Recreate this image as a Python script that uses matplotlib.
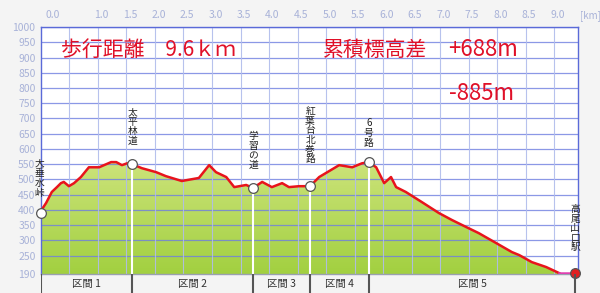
import numpy as np
import matplotlib.pyplot as plt
from matplotlib.patches import Polygon
from matplotlib.transforms import blended_transform_factory

plt.rcParams['font.family'] = ['Noto Sans CJK JP', 'DejaVu Sans']

# 距離 [km] と標高 [m]
dist = [0.00, 0.02, 0.09, 0.19, 0.28, 0.35, 0.40, 0.49, 0.58, 0.70, 0.84, 1.02,
        1.23, 1.32, 1.42, 1.51, 1.60, 1.77, 2.02, 2.19, 2.47, 2.65, 2.77, 2.95,
        3.07, 3.25, 3.39, 3.60, 3.72, 3.88, 4.05, 4.23, 4.35, 4.53, 4.72, 4.88,
        5.23, 5.46, 5.63, 5.75, 5.88, 6.02, 6.14, 6.23, 6.40, 6.68, 6.98, 7.21,
        7.46, 7.68, 7.98, 8.26, 8.39, 8.61, 8.86, 9.09, 9.37]
elev = [390, 403, 423, 459, 475, 488, 492, 478, 488, 508, 540, 540,
        557, 557, 547, 553, 550, 537, 524, 511, 495, 501, 505, 547,
        524, 508, 475, 482, 472, 492, 475, 488, 475, 478, 478, 508,
        547, 540, 553, 557, 540, 488, 508, 475, 459, 426, 390, 367,
        344, 324, 292, 262, 252, 229, 213, 193, 193]

# 地点
spot_km = [0.0, 1.60, 3.72, 4.72, 5.75, 9.37]
spot_elev = [390, 550, 472, 478, 557, 193]
spot_names = ['大垂水峠', '太平林道', '学習の道', '紅葉台北巻路', '6号路', '高尾山口駅']
label_x = [-0.03, 1.60, 3.72, 4.72, 5.75, 9.37]
label_top = [568, 738, 658, 740, 700, 420]

sections = ['区間 1', '区間 2', '区間 3', '区間 4', '区間 5']
section_edges = [0.0, 1.60, 3.72, 4.72, 5.75, 9.37]

xtick_vals = [0.0, 1.0, 1.5, 2.0, 2.5, 3.0, 3.5, 4.0, 4.5, 5.0, 5.5, 6.0,
              6.5, 7.0, 7.5, 8.0, 8.5, 9.0]
ytick_vals = [1000, 950, 900, 850, 800, 750, 700, 650, 600, 550, 500, 450,
              400, 350, 300, 250, 190]

fig = plt.figure(figsize=(6, 2.93), dpi=100, facecolor='#f4f4f4')
ax = fig.add_axes([0.0683, 0.0648, 0.8950, 0.8430])
ax.set_facecolor('white')
xmax = 9.42
ax.set_xlim(0, xmax)
ax.set_ylim(190, 1000)

# グリッド
for y in range(250, 1001, 50):
    ax.axhline(y, color='#6e7ee0', lw=0.9, alpha=0.8, zorder=2)
for x in np.arange(0.5, 9.5, 0.5):
    ax.axvline(x, color='#b0bcec', lw=0.8, alpha=0.9, zorder=2)

# 塗りつぶし（グラデーション）
d = np.array(dist)
e = np.array(elev)
verts = list(zip(d, e)) + [(d[-1], 190), (d[0], 190)]
poly = Polygon(verts, closed=True, facecolor='none', edgecolor='none')
ax.add_patch(poly)
grad = np.linspace(0, 1, 256).reshape(-1, 1)
cmap = plt.matplotlib.colors.LinearSegmentedColormap.from_list('g', ['#cce37a', '#a2d040'])
im = ax.imshow(grad, extent=[0, xmax, 190, 560], aspect='auto', cmap=cmap,
               origin='upper', zorder=1)
im.set_clip_path(poly)
ax.set_xlim(0, xmax)
ax.set_ylim(190, 1000)

# 断面線
ax.plot(d[:-1], e[:-1], color='#e8141c', lw=1.8, zorder=4)
ax.plot(d[-2:], e[-2:], color='#e040b0', lw=1.8, zorder=4)

# 地点の縦線とマーカー
for k, (sx, sy) in enumerate(zip(spot_km, spot_elev)):
    if 0 < k < len(spot_km) - 1:
        ax.plot([sx, sx], [190, sy], color='white', lw=1.5, zorder=3)
    fc = '#e02020' if k == len(spot_km) - 1 else 'white'
    ax.plot(sx, sy, 'o', ms=7, mfc=fc, mec='#555555', mew=0.9, zorder=5, clip_on=False)

for lx, top, name in zip(label_x, label_top, spot_names):
    ax.text(lx, top, '\n'.join(name), ha='center', va='top', fontsize=7,
            linespacing=0.95, color='#222222', zorder=6, clip_on=False)

# 見出し
ax.text(0.35, 925, '歩行距離　9.6ｋｍ', fontsize=15, color='#e01028', va='center')
ax.text(4.95, 925, '累積標高差', fontsize=15, color='#e01028', va='center')
ax.text(7.15, 925, '+688m', fontsize=16, color='#e01028', va='center')
ax.text(7.15, 783, '-885m', fontsize=16, color='#e01028', va='center')

# 軸ラベル
ax.set_xticks([])
ax.set_yticks(ytick_vals)
ax.set_yticklabels([str(v) for v in ytick_vals], fontsize=7.5, color='#a8b2d8')
ax.tick_params(axis='y', length=0, pad=4)
tr = blended_transform_factory(ax.transData, fig.transFigure)
for v in xtick_vals:
    off = 0.2 if v == 0 else 0.06
    ax.text(v + off, 0.948, f'{v:.1f}', transform=tr, ha='center', va='center',
            fontsize=7.5, color='#a8b2d8')
ax.text(9.46, 0.948, '[km]', transform=tr, ha='left', va='center',
        fontsize=7, color='#a8b2d8')

for s in ax.spines.values():
    s.set_color('#5a6ad8')
    s.set_linewidth(1.0)
ax.spines['bottom'].set_color('#9aa0b0')

# 区間バー
bx = fig.add_axes([0.0683, 0.0, 0.8950, 0.0648], sharex=ax)
bx.set_facecolor('#f7f7f7')
bx.set_ylim(0, 1)
bx.axis('off')
bx.set_xlim(0, xmax)
for x in section_edges:
    bx.plot([x, x], [0, 1], color='#555555', lw=1.5)
for name, a, b in zip(sections, section_edges[:-1], section_edges[1:]):
    bx.text((a + b) / 2, 0.45, name, ha='center', va='center', fontsize=7.5,
            color='#333333')

fig.savefig('out.png', dpi=100, facecolor=fig.get_facecolor())
